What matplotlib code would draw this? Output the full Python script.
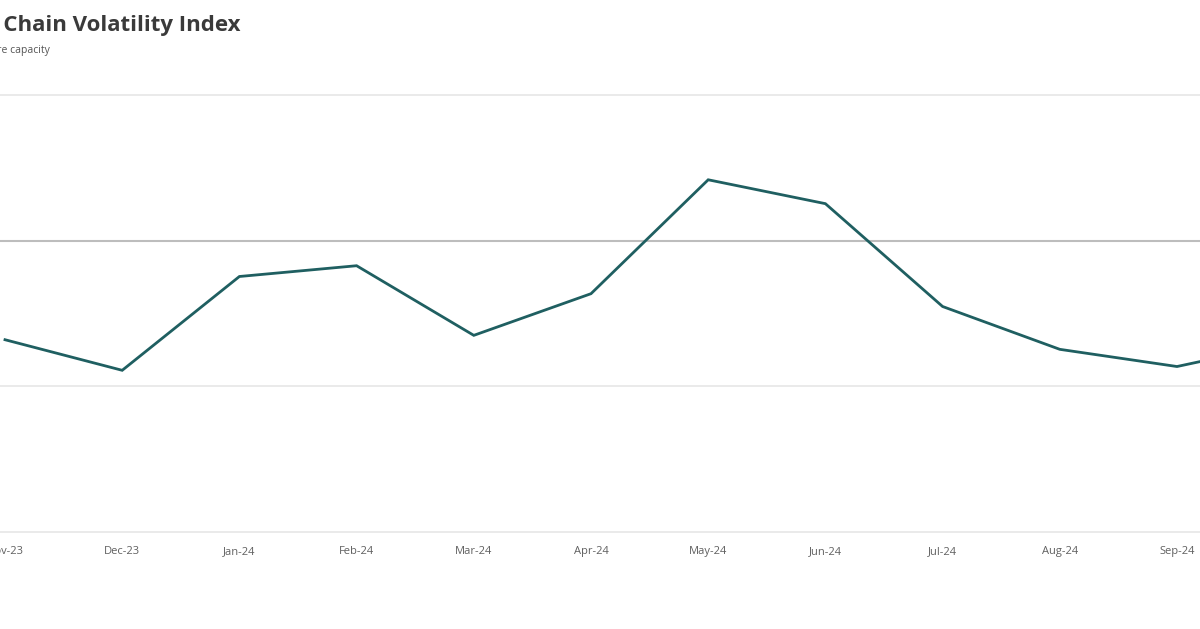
import matplotlib
matplotlib.use("Agg")
import matplotlib.pyplot as plt

months = ["Nov-23", "Dec-23", "Jan-24", "Feb-24", "Mar-24", "Apr-24",
          "May-24", "Jun-24", "Jul-24", "Aug-24", "Sep-24", "Oct-24"]
index_values = [-0.34, -0.445, -0.123, -0.086, -0.325, -0.182,
                0.209, 0.127, -0.226, -0.373, -0.432, -0.346]
grid_levels = [0.5, -0.5, -1.0]
zero_level = 0.0

W, H = 1200, 629
fig = plt.figure(figsize=(W / 100, H / 100), dpi=100)
fig.patch.set_facecolor("white")

px_per_unit = 117.2
x0_px = 5
left_lim = -x0_px / px_per_unit
right_lim = (W - x0_px) / px_per_unit
top_px, bot_px = 95, 532
ax = fig.add_axes([0, 1 - bot_px / H, 1, (bot_px - top_px) / H])

for g in grid_levels:
    ax.axhline(g, color="#e6e6e6", lw=1.2, clip_on=False, zorder=1)
ax.axhline(zero_level, color="#bdbdbd", lw=1.5, zorder=1)

x = list(range(len(months)))
ax.plot(x, index_values, color="#1f5f61", lw=2.0, zorder=3,
        solid_joinstyle="miter")

shown = len(months) - 1  # the last month lies beyond the visible frame
ax.set_xticks(x[:shown])
ax.set_xticklabels(months[:shown], fontsize=8, color="#606060", family="Open Sans")
ax.tick_params(axis="x", length=0, pad=10)
ax.set_yticks([])
ax.set_xlim(left_lim, right_lim)
ax.set_ylim(-1.0, 0.5)
for s in ax.spines.values():
    s.set_visible(False)

fig.text(240 / W, 1 - 26 / H, "GEP Global Supply Chain Volatility Index",
         ha="right", va="center", fontsize=16, fontweight="bold",
         color="#3a3a3a", family="Open Sans")
fig.text(50 / W, 1 - 50 / H, "Values below zero indicate spare capacity",
         ha="right", va="center", fontsize=7.5, color="#555555",
         family="Open Sans")

fig.savefig("out.png", dpi=100, facecolor="white")
